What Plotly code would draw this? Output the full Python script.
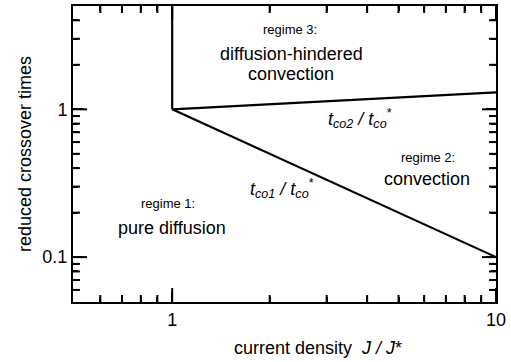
import math
import plotly.graph_objects as go

# ---- data ----
x_major = [1, 10]
x_major_text = ["1", "10"]
x_minor = [0.6, 0.7, 0.8, 0.9, 2, 3, 4, 5, 6, 7, 8, 9]
y_major = [0.1, 1]
y_major_text = ["0.1", "1"]
y_minor = [0.06, 0.07, 0.08, 0.09, 0.2, 0.3, 0.4, 0.5, 0.6, 0.7, 0.8, 0.9, 2, 3, 4]

boundary_x = [1, 1]
boundary_y = [1, 6]
tco1_x = [1, 10]
tco1_y = [1, 0.1]
tco2_x = [1, 10]
tco2_y = [1, 1.3]

x_range = [0.494, 10]
y_range = [0.0497, 5]

FONT = "Liberation Sans, Arial, Helvetica, sans-serif"

fig = go.Figure()
line = dict(color="black", width=2.2)
for xs, ys in [(boundary_x, boundary_y), (tco1_x, tco1_y), (tco2_x, tco2_y)]:
    fig.add_trace(go.Scatter(x=xs, y=ys, mode="lines", line=line,
                             hoverinfo="skip", showlegend=False))

# inside tick marks on the frame edges (clipped line markers)
def tick_trace(xs, ys, symbol, length, width):
    fig.add_trace(go.Scatter(
        x=xs, y=ys, mode="markers", cliponaxis=True, hoverinfo="skip",
        showlegend=False,
        marker=dict(symbol=symbol, size=2 * length, color="black",
                    line=dict(color="black", width=width))))

for yedge in y_range:
    tick_trace(x_minor, [yedge] * len(x_minor), "line-ns-open", 5, 2)
    tick_trace(x_major, [yedge] * len(x_major), "line-ns-open", 10, 2)
for xedge in x_range:
    tick_trace([xedge] * len(y_minor), y_minor, "line-ew-open", 5, 2)
    tick_trace([xedge] * len(y_major), y_major, "line-ew-open", 10, 2)

axis_common = dict(
    type="log", showgrid=False, zeroline=False,
    showline=True, linecolor="black", linewidth=2, mirror="allticks",
    ticks="inside", ticklen=10, tickwidth=2, tickcolor="black",
    tickfont=dict(family=FONT, size=18, color="black"),
)
fig.update_xaxes(**axis_common,
                 range=[math.log10(x_range[0]), math.log10(x_range[1])],
                 tickvals=x_major, ticktext=x_major_text,
                 minor=dict(ticks="inside", ticklen=5, tickwidth=2,
                            tickcolor="black", tickvals=x_minor),
                 ticklabelstandoff=0)
fig.update_yaxes(**axis_common,
                 range=[math.log10(y_range[0]), math.log10(y_range[1])],
                 tickvals=y_major, ticktext=y_major_text,
                 minor=dict(ticks="inside", ticklen=5, tickwidth=2,
                            tickcolor="black", tickvals=y_minor),
                 ticklabelstandoff=0)

def ann(text, x, y, size, **kw):
    fig.add_annotation(text=text, x=x, y=y, xref="paper", yref="paper",
                       xanchor="center", yanchor="middle", showarrow=False,
                       font=dict(family=FONT, size=size, color="black"), **kw)

W, H = 511, 362
L, R, T, B = 73, 496, 4, 302
def px(xp, yp):
    return (xp - L) / (R - L), (B - yp) / (B - T)

labels = [
    ("regime 3:", 290, 28, 13),
    ("diffusion-hindered", 291, 52, 18),
    ("convection", 291, 72, 18),
    ("<i>t</i><sub><i>co2</i></sub><i> / t</i><sub><i>co</i></sub><sup>*</sup>", 360, 117, 18),
    ("regime 2:", 428, 157, 13),
    ("convection", 427, 178, 18),
    ("<i>t</i><sub><i>co1</i></sub><i> / t</i><sub><i>co</i></sub><sup>*</sup>", 282, 188, 18),
    ("regime 1:", 168, 203, 13),
    ("pure diffusion", 172, 228, 18),
]
for t, xp, yp, s in labels:
    ax, ay = px(xp, yp)
    ann(t, ax, ay, s)

ax, ay = px(318, 348)
ann("current density  <i>J / J</i>*", ax, ay, 18)
ax, ay = px(25, 153)
ann("reduced crossover times", ax, ay, 18, textangle=-90)

fig.update_layout(
    width=W, height=H,
    margin=dict(l=L, r=W - R, t=T, b=H - B),
    paper_bgcolor="white", plot_bgcolor="white",
)
fig.write_html("out.html")
